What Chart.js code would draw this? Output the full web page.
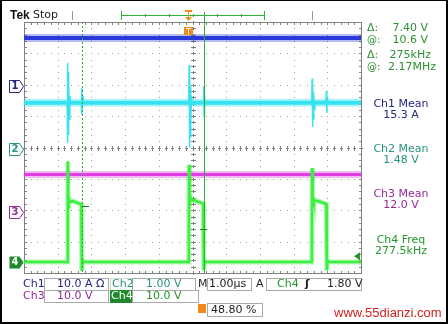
<!DOCTYPE html>
<html>
<head>
<meta charset="utf-8">
<script src="https://cdn.jsdelivr.net/npm/chart.js@4.4.1/dist/chart.umd.min.js"></script>
<style>
    html, body { margin: 0; padding: 0; background: #fff; }
    #scope { position: relative; width: 448px; height: 324px; overflow: hidden;
             font-family: "DejaVu Sans", sans-serif; font-size: 11px; }
    #scope canvas { position: absolute; left: 0; top: 0; }
    .t { position: absolute; white-space: nowrap; line-height: 12px; }
    .box { position: absolute; box-sizing: border-box; border: 1px solid #a9a9a9; }
    #frame { position: absolute; left: 0; top: 0; right: 0; bottom: 0; pointer-events: none;
             border-style: solid; border-color: #000; border-width: 1px 2px 2px 2px; }
</style>
</head>
<body>
<div id="scope">
    <canvas id="trace" width="448" height="324"></canvas>
    <div id="frame"></div>
</div>
<script>
// horizontal: 1.00 µs/div, 10 divisions
const timeDivs = 10;
const vertDivs = 8;

const channelNames = ['Ch1', 'Ch2', 'Ch3', 'Ch4'];
const channelUnits = ['A', 'V', 'V', 'V'];
const perDiv = [10, 1, 10, 10];               // A or V per division
const groundDiv = [5.96, 3.95, 1.94, 0.35];   // ground marker, divisions from bottom
const meanValues = [15.3, 1.48, 12.0];        // Ch1 A, Ch2 V, Ch3 V
const ch4Freq = '277.5kHz';

// Ch2 ringing at the switching edges [µs, V], null splits the bursts
const ch2Spikes = [
    [1.28, 1.48], [1.29, 2.74], [1.30, 0.20], [1.31, 2.45], [1.32, 0.45], [1.33, 2.05], [1.345, 0.95], [1.36, 1.70], [1.38, 1.48], [1.38, null],
    [1.70, 1.48], [1.71, 1.95], [1.72, 1.10], [1.73, 1.70], [1.75, 1.48], [1.75, null],
    [4.89, 1.48], [4.90, 2.68], [4.91, 0.05], [4.92, 2.40], [4.93, 0.40], [4.94, 2.00], [4.955, 0.90], [4.97, 1.70], [4.99, 1.48], [4.99, null],
    [5.32, 1.48], [5.335, 2.00], [5.345, 1.05], [5.355, 1.70], [5.375, 1.48], [5.375, null],
    [8.54, 1.48], [8.55, 2.25], [8.56, 0.70], [8.57, 2.05], [8.58, 0.95], [8.595, 1.80], [8.61, 1.25], [8.63, 1.48], [8.63, null],
    [8.96, 1.48], [8.975, 1.85], [8.985, 1.15], [8.995, 1.65], [9.01, 1.48]
];

// Ch3 glitches on the switching edges [µs, V]
const ch3Glitches = [
    [1.28, 12.0], [1.30, 14.5], [1.31, 9.6], [1.33, 12.8], [1.35, 12.0], [1.35, null],
    [4.89, 12.0], [4.91, 14.0], [4.92, 9.8], [4.94, 12.6], [4.96, 12.0], [4.96, null],
    [8.54, 12.0], [8.56, 13.6], [8.57, 10.2], [8.59, 12.5], [8.61, 12.0]
];

// Ch4 switch node [µs, V]
const ch4Trace = [
    [0, 0], [1.29, 0], [1.30, 32], [1.315, 17.5], [1.33, 20.6], [1.35, 19.2], [1.45, 19.4], [1.70, 18.4], [1.715, -2.8], [1.74, 0.6], [1.78, 0],
    [4.89, 0], [4.90, 31], [4.915, 17.8], [4.93, 20.8], [4.95, 19.6], [5.05, 19.7], [5.32, 18.6], [5.335, -2.6], [5.36, 0.5], [5.40, 0],
    [8.54, 0], [8.55, 30], [8.565, 17.6], [8.58, 20.4], [8.60, 19.4], [8.70, 19.5], [8.97, 18.5], [8.985, -2.7], [9.01, 0.5], [9.05, 0],
    [10, 0]
];

// time cursors (µs) and where they cross Ch4 (V)
const cursorTimes = [1.71, 5.346];
const cursorLevels = [18.0, 10.6];
const triggerPos = 4.88;      // 48.80 % of record
const triggerLevel = 1.80;    // V on Ch4

const traceColors = ['#2a3ad8', '#36e2f0', '#e23ce4', '#3eee42'];
const traceHalo = ['rgba(42,58,216,0.35)', 'rgba(54,226,240,0.4)', 'rgba(226,60,228,0.35)', 'rgba(62,238,66,0.4)'];
const textColors = ['#26267f', '#279482', '#952c95', '#23952a'];
const cursorGreen = '#2fae3a';

const toXY = arr => arr.map(p => ({x: p[0], y: p[1]}));
const flat = v => [{x: 0, y: v}, {x: timeDivs, y: v}];

function chAxis(i) {
    return {
        type: 'linear', axis: 'y', display: false,
        min: -groundDiv[i] * perDiv[i],
        max: (vertDivs - groundDiv[i]) * perDiv[i]
    };
}

const lineSet = (data, axis, color, width, order) => ({
    data: data, yAxisID: axis, borderColor: color, borderWidth: width,
    showLine: true, pointRadius: 0, spanGaps: false, order: order
});

// each noisy trace: a faint wide halo under a denser core
const datasets = [
    lineSet(flat(meanValues[0]), 'ch1', traceHalo[0], 8, 12),
    lineSet(flat(meanValues[0]), 'ch1', traceColors[0], 4, 11),
    lineSet(flat(meanValues[1]), 'ch2', traceHalo[1], 8, 10),
    lineSet(flat(meanValues[1]), 'ch2', traceColors[1], 4, 9),
    lineSet(toXY(ch2Spikes), 'ch2', traceColors[1], 1.5, 8),
    lineSet(flat(meanValues[2]), 'ch3', traceHalo[2], 7, 7),
    lineSet(flat(meanValues[2]), 'ch3', traceColors[2], 3, 6),
    lineSet(toXY(ch3Glitches), 'ch3', traceColors[2], 1.5, 5),
    lineSet(toXY(ch4Trace), 'ch4', traceHalo[3], 5, 4),
    lineSet(toXY(ch4Trace), 'ch4', traceColors[3], 2.5, 3)
];

const graticule = {
    id: 'graticule',
    beforeDatasetsDraw(chart) {
        const {ctx, chartArea: a, scales} = chart;
        const x = scales.x, g = scales.grid;
        ctx.save();
        // dotted division lines
        ctx.fillStyle = '#9c9c9c';
        for (let i = 1; i < timeDivs; i++) {
            if (i === timeDivs / 2) continue;
            const px = Math.round(x.getPixelForValue(i));
            for (let j = 0; j <= vertDivs * 5; j++) {
                ctx.fillRect(px, Math.round(g.getPixelForValue(j / 5)), 1, 1);
            }
        }
        for (let j = 1; j < vertDivs; j++) {
            if (j === vertDivs / 2) continue;
            const py = Math.round(g.getPixelForValue(j));
            for (let i = 0; i <= timeDivs * 5; i++) {
                ctx.fillRect(Math.round(x.getPixelForValue(i / 5)), py, 1, 1);
            }
        }
        // centre cross with minor ticks
        ctx.fillStyle = '#808080';
        const cx = Math.round(x.getPixelForValue(timeDivs / 2));
        const cy = Math.round(g.getPixelForValue(vertDivs / 2));
        for (let j = 0; j <= vertDivs * 5; j++) {
            const py = Math.round(g.getPixelForValue(j / 5));
            ctx.fillRect(cx - 2, py, 5, 1);
            ctx.fillRect(cx, py - 1, 1, 3);
        }
        for (let i = 0; i <= timeDivs * 5; i++) {
            const px = Math.round(x.getPixelForValue(i / 5));
            ctx.fillRect(px, cy - 2, 1, 5);
            ctx.fillRect(px - 1, cy, 3, 1);
        }
        // border with inward ticks
        ctx.fillRect(a.left, a.top, a.right - a.left, 1);
        ctx.fillRect(a.left, a.bottom, a.right - a.left + 1, 1);
        ctx.fillRect(a.left, a.top, 1, a.bottom - a.top);
        ctx.fillRect(a.right, a.top, 1, a.bottom - a.top);
        for (let i = 0; i <= timeDivs * 5; i++) {
            const px = Math.round(x.getPixelForValue(i / 5));
            ctx.fillRect(px, a.top, 1, 3);
            ctx.fillRect(px, a.bottom - 2, 1, 3);
        }
        for (let j = 0; j <= vertDivs * 5; j++) {
            const py = Math.round(g.getPixelForValue(j / 5));
            ctx.fillRect(a.left, py, 3, 1);
            ctx.fillRect(a.right - 2, py, 3, 1);
        }
        ctx.restore();
    },
    afterDatasetsDraw(chart) {
        const {ctx, chartArea: a, scales} = chart;
        const x = scales.x, ch4 = scales.ch4;
        ctx.save();
        // time cursors
        const c1 = Math.round(x.getPixelForValue(cursorTimes[0])) + 0.5;
        const c2 = Math.round(x.getPixelForValue(cursorTimes[1])) + 0.5;
        ctx.strokeStyle = cursorGreen;
        ctx.lineWidth = 1;
        ctx.setLineDash([2, 2]);
        ctx.beginPath(); ctx.moveTo(c1, a.top); ctx.lineTo(c1, a.bottom); ctx.stroke();
        ctx.setLineDash([]);
        ctx.beginPath(); ctx.moveTo(c2, 12); ctx.lineTo(c2, a.bottom); ctx.stroke();
        // cursor crossings on Ch4
        ctx.fillStyle = '#1d7a26';
        ctx.fillRect(c1 - 0.5, Math.round(ch4.getPixelForValue(cursorLevels[0])), 7, 1);
        ctx.fillRect(c2 - 4.5, Math.round(ch4.getPixelForValue(cursorLevels[1])), 7, 1);

        // trigger position marker inside the graticule
        const tx = Math.round(x.getPixelForValue(triggerPos));
        ctx.fillStyle = '#f28a1e';
        ctx.fillRect(tx - 4, a.top + 5, 9, 8);
        ctx.fillStyle = '#fff';
        ctx.fillRect(tx - 2, a.top + 6, 5, 1);
        ctx.fillRect(tx, a.top + 6, 1, 6);

        // trigger level arrow on the right edge
        const ty = ch4.getPixelForValue(triggerLevel);
        ctx.fillStyle = '#23952a';
        ctx.beginPath();
        ctx.moveTo(a.right - 7, ty); ctx.lineTo(a.right - 1, ty - 4); ctx.lineTo(a.right - 1, ty + 4);
        ctx.closePath(); ctx.fill();
        ctx.restore();
    },
    afterDraw(chart) {
        const {ctx, chartArea: a, scales} = chart;
        const x = scales.x;
        ctx.save();
        // record bar across the top
        ctx.fillStyle = '#9a9a9a';
        ctx.fillRect(72, 11, 1, 9);
        ctx.fillRect(312, 11, 1, 9);
        ctx.fillStyle = cursorGreen;
        ctx.fillRect(121, 15, 143, 1);
        ctx.fillRect(121, 11, 1, 9);
        ctx.fillRect(264, 11, 1, 9);
        for (let px = 145; px < 264; px += 24) ctx.fillRect(px, 14, 1, 3);
        const tx = Math.round(x.getPixelForValue(triggerPos));
        ctx.fillStyle = '#f28a1e';
        ctx.fillRect(tx - 3, 10, 7, 2);
        ctx.fillRect(tx, 10, 1, 9);
        ctx.beginPath();
        ctx.moveTo(tx - 3, 17); ctx.lineTo(tx + 4, 17); ctx.lineTo(tx + 0.5, 21); ctx.closePath(); ctx.fill();

        // channel ground markers on the left
        for (let i = 0; i < 4; i++) {
            const py = Math.round(scales['ch' + (i + 1)].getPixelForValue(0)) + 0.5;
            ctx.beginPath();
            ctx.moveTo(9.5, py - 6); ctx.lineTo(19.5, py - 6); ctx.lineTo(a.left - 0.5, py);
            ctx.lineTo(19.5, py + 6); ctx.lineTo(9.5, py + 6); ctx.closePath();
            if (i === 3) {
                ctx.fillStyle = '#1f8a2c'; ctx.fill();
            } else {
                ctx.fillStyle = '#fff'; ctx.fill();
                ctx.strokeStyle = textColors[i]; ctx.lineWidth = 1; ctx.stroke();
            }
        }
        ctx.restore();
    }
};

const chart = new Chart(document.getElementById('trace'), {
    type: 'scatter',
    data: {datasets: datasets},
    options: {
        responsive: false,
        animation: false,
        events: [],
        layout: {padding: {left: 24, top: 22, right: 87, bottom: 51}},
        plugins: {legend: {display: false}, tooltip: {enabled: false}},
        scales: {
            x: {type: 'linear', min: 0, max: timeDivs, display: false},
            grid: {type: 'linear', axis: 'y', min: 0, max: vertDivs, display: false},
            ch1: chAxis(0), ch2: chAxis(1), ch3: chAxis(2), ch4: chAxis(3)
        }
    },
    plugins: [graticule]
});

// text readouts
const scope = document.getElementById('scope');
function addText(str, x, y, color, align, extra) {
    const el = document.createElement('div');
    el.className = 't';
    el.textContent = str;
    el.style.left = x + 'px';
    el.style.top = y + 'px';
    el.style.color = color;
    const shift = align === 'right' ? '-100%' : align === 'center' ? '-50%' : '0';
    el.style.transform = 'translate(' + shift + ', -50%)';
    if (extra) Object.assign(el.style, extra);
    scope.appendChild(el);
    return el;
}
function addBox(x, y, w, h, extra) {
    const el = document.createElement('div');
    el.className = 'box';
    Object.assign(el.style, {left: x + 'px', top: y + 'px', width: w + 'px', height: h + 'px'}, extra || {});
    scope.appendChild(el);
}

addText('Tek', 10, 15, '#111', 'left', {fontFamily: '"Liberation Sans", sans-serif', fontWeight: 'bold', fontSize: '12px'});
addText('Stop', 33, 15, '#222');

// channel marker digits
for (let i = 0; i < 4; i++) {
    const py = chart.scales['ch' + (i + 1)].getPixelForValue(0);
    addText(String(i + 1), 15, py, i === 3 ? '#fff' : textColors[i], 'center', {fontSize: '10px', fontWeight: 'bold'});
}

// cursor readouts
const msrGreen = '#2e8f35';
addText('Δ:', 367, 28, msrGreen);
addText((cursorLevels[0] - cursorLevels[1]).toFixed(2) + ' V', 428, 28, msrGreen, 'right');
addText('@:', 367, 40, msrGreen, 'left', {fontSize: '10px'});
addText(cursorLevels[1].toFixed(1) + ' V', 428, 40, msrGreen, 'right');
addText('Δ:', 367, 55, msrGreen);
addText(Math.round(1000 / (cursorTimes[1] - cursorTimes[0])) + 'kHz', 431, 55, msrGreen, 'right');
addText('@:', 367, 67, msrGreen, 'left', {fontSize: '10px'});
addText('2.17MHz', 436, 67, msrGreen, 'right');

// measurements
const msrY = [104, 149, 194, 240];
for (let i = 0; i < 3; i++) {
    addText(channelNames[i] + ' Mean', 401, msrY[i], textColors[i], 'center');
    addText(meanValues[i].toFixed(i === 1 ? 2 : 1) + ' ' + channelUnits[i], 401, msrY[i] + 11, textColors[i], 'center');
}
addText('Ch4 Freq', 401, msrY[3], textColors[3], 'center');
addText(ch4Freq, 401, msrY[3] + 11, textColors[3], 'center');

// bottom status rows
const dark = '#1e1e1e';
addBox(44, 278, 65, 13);
addBox(44, 290, 65, 13);
addBox(110, 278, 23, 13, {borderColor: '#d4d4d4'});
addBox(110, 290, 23, 13, {background: '#1f8a2c', borderColor: '#1f8a2c'});
addBox(132, 278, 64, 13);
addBox(132, 290, 67, 13);
addBox(207, 278, 45, 13);
addBox(266, 278, 96, 13);
addBox(207, 303, 56, 14);

addText('Ch1', 23, 284, textColors[0]);
addText(perDiv[0].toFixed(1) + ' A Ω', 57, 284, textColors[0]);
addText('Ch2', 112, 284, textColors[1]);
addText(perDiv[1].toFixed(2) + ' V', 146, 284, textColors[1]);
addText('M', 198, 284, dark);
addText('1.00µs', 209, 284, dark);
addText('A', 256, 284, dark);
addText('Ch4', 277, 284, textColors[3]);
addText('ʃ', 305, 284, dark, 'left', {fontWeight: 'bold'});
addText(triggerLevel.toFixed(2) + ' V', 327, 284, dark);

addText('Ch3', 23, 296, textColors[2]);
addText(perDiv[2].toFixed(1) + ' V', 57, 296, textColors[2]);
addText('Ch4', 111, 296, '#fff');
addText(perDiv[3].toFixed(1) + ' V', 146, 296, textColors[3]);

addBox(198, 304, 8, 9, {background: '#f28a1e', borderColor: '#f28a1e'});
addText((triggerPos * 10).toFixed(2) + ' %', 211, 310, dark);

addText('www.55dianzi.com', 334, 313, '#cf2222', 'left', {fontFamily: '"Liberation Sans", sans-serif', fontSize: '13px'});
</script>
</body>
</html>
